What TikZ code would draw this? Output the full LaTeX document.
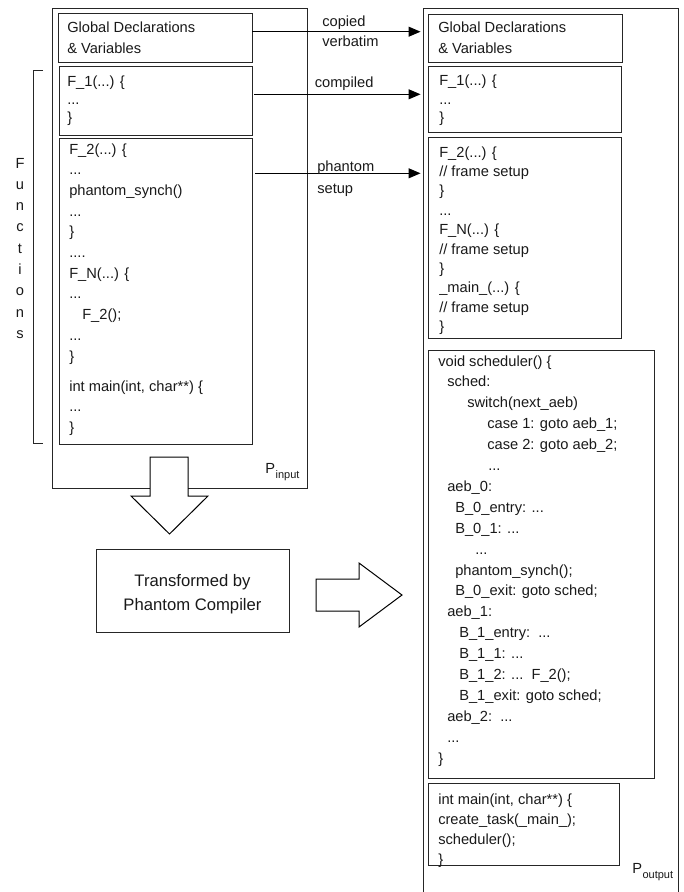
\documentclass[tikz,border=0pt]{standalone}
\usepackage{fontspec}
\setmainfont{Liberation Sans}
\usetikzlibrary{fit,arrows.meta}
\tikzset{
  box/.style={draw=black!85, line width=0.7pt, inner sep=0pt},
  code/.style={anchor=base west, inner sep=0pt, font=\fontsize{11}{13}\selectfont, text=black!90},
  ctr/.style={anchor=base, inner sep=0pt, font=\fontsize{11}{13}\selectfont, text=black!90},
  big/.style={anchor=base, inner sep=0pt, font=\fontsize{12.5}{15}\selectfont, text=black!90},
  sub/.style={anchor=base west, inner sep=0pt, font=\fontsize{8.25}{10}\selectfont, text=black!90},
  conn/.style={draw=black, line width=0.75pt, -{Triangle[length=9pt,width=7.5pt]}, shorten >=1.5pt},
  blockarrow/.style={draw=black, line width=0.75pt, fill=white, line join=miter},
}
\newcommand\cl[4]{\node[code] (#1) at (#2,#3) {#4};}
\begin{document}
\begin{tikzpicture}[x=0.75pt,y=-0.75pt]
\useasboundingbox (0,0) rectangle (684,892);

% ---------- input program ----------
\node[box, fit={(52,8) (307,488)}] (pin) {};
\node[box, fit={(58,13) (252,62)}] (lglob) {};
\node[box, fit={(59,66) (252,135)}] (lf1) {};
\node[box, fit={(59,138) (252,444)}] (lf2) {};

\cl{lg1}{67}{33}{Global Declarations}
\cl{lg2}{67}{54}{\& Variables}

\cl{la1}{67}{86.5}{F\_1(...) \{}
\cl{la2}{67}{104.5}{...}
\cl{la3}{67}{122.5}{\}}

\cl{lb1}{69}{154}{F\_2(...) \{}
\cl{lb2}{69}{174.7}{...}
\cl{lb3}{69}{195.4}{phantom\_synch()}
\cl{lb4}{69}{216.1}{...}
\cl{lb5}{69}{236.8}{\}}
\cl{lb6}{69}{257.5}{....}
\cl{lb7}{69}{278.2}{F\_N(...) \{}
\cl{lb8}{69}{298.9}{...}
\cl{lb9}{82}{319.6}{F\_2();}
\cl{lb10}{69}{340.3}{...}
\cl{lb11}{69}{361}{\}}
\cl{lb12}{69}{391}{int main(int, char**) \{}
\cl{lb13}{69}{411.5}{...}
\cl{lb14}{69}{432}{\}}

% Functions bracket
\draw[draw=black!85, line width=0.7pt] (43,70) -- (33,70) -- (33,443) -- (43,443);
\foreach \ch [count=\i from 0] in {F,u,n,c,t,i,o,n,s}
  \node[ctr] (fn\i) at (20,{168+21.3*\i}) {\ch};

% P_input label
\node[code] (pinP) at (265,473) {P};
\node[sub, anchor=base west] (pinS) at ([yshift=-3.75pt]pinP.base east) {input};

% down block arrow
\draw[blockarrow] (150,457) -- (188,457) -- (188,496) -- (208,496) -- (169.5,534) -- (131,496) -- (150,496) -- cycle;

% transformed box
\node[box, fit={(96,549) (289,632)}] (trans) {};
\node[big] (tr1) at (192.5,586.7) {Transformed by};
\node[big] (tr2) at (192.5,610) {Phantom Compiler};

% right block arrow
\draw[blockarrow] (316,579) -- (359,579) -- (359,563) -- (402,595) -- (359,627) -- (359,611) -- (316,611) -- cycle;

% ---------- output program ----------
\begin{scope}
\clip (0,0) rectangle (684,892);
\node[box, fit={(423,8) (678,905)}] (pout) {};
\end{scope}
\node[box, fit={(428,14) (622,62)}] (rglob) {};
\node[box, fit={(428,66) (621,132)}] (rf1) {};
\node[box, fit={(428,137) (621,338)}] (rf2) {};
\node[box, fit={(428,350) (654,778)}] (rsched) {};
\node[box, fit={(428,783) (619,865)}] (rmain) {};

\cl{rg1}{438}{33}{Global Declarations}
\cl{rg2}{438}{54}{\& Variables}

\cl{ra1}{439}{85.5}{F\_1(...) \{}
\cl{ra2}{439}{104}{...}
\cl{ra3}{439}{122.5}{\}}

\cl{rb1}{439}{157}{F\_2(...) \{}
\cl{rb2}{439}{176.4}{// frame setup}
\cl{rb3}{439}{195.8}{\}}
\cl{rb4}{439}{215.2}{...}
\cl{rb5}{439}{234.6}{F\_N(...) \{}
\cl{rb6}{439}{254}{// frame setup}
\cl{rb7}{439}{273.4}{\}}
\cl{rb8}{439}{292.8}{\_main\_(...) \{}
\cl{rb9}{439}{312.2}{// frame setup}
\cl{rb10}{439}{331.6}{\}}

\cl{s0}{438}{366}{void scheduler() \{}
\cl{s1}{447}{386.9}{sched:}
\cl{s2}{467}{407.8}{switch(next\_aeb)}
\cl{s3}{487}{428.7}{case 1: goto aeb\_1;}
\cl{s4}{487}{449.6}{case 2: goto aeb\_2;}
\cl{s5}{488}{470.5}{...}
\cl{s6}{447}{491.4}{aeb\_0:}
\cl{s7}{455}{512.3}{B\_0\_entry: ...}
\cl{s8}{455}{533.2}{B\_0\_1: ...}
\cl{s9}{475}{554.1}{...}
\cl{s10}{455}{575}{phantom\_synch();}
\cl{s11}{455}{595.9}{B\_0\_exit: goto sched;}
\cl{s12}{447}{616.8}{aeb\_1:}
\cl{s13}{459}{637.7}{B\_1\_entry:\ \ ...}
\cl{s14}{459}{658.6}{B\_1\_1: ...}
\cl{s15}{459}{679.5}{B\_1\_2: ...\ \ F\_2();}
\cl{s16}{459}{700.4}{B\_1\_exit: goto sched;}
\cl{s17}{447}{721.3}{aeb\_2:\ \ ...}
\cl{s18}{447}{742.2}{...}
\cl{s19}{438}{763.1}{\}}

\cl{m1}{438}{804}{int main(int, char**) \{}
\cl{m2}{438}{824}{create\_task(\_main\_);}
\cl{m3}{438}{844}{scheduler();}
\cl{m4}{438}{864}{\}}

% P_output label
\node[code] (poP) at (632,873) {P};
\node[sub, anchor=base west] (poS) at ([yshift=-3.75pt]poP.base east) {output};

% ---------- connectors ----------
\coordinate (y1) at (0,31.7);
\coordinate (y2) at (0,94.3);
\coordinate (y3) at (0,173.3);
\draw[conn] (lglob.east |- y1) -- (pout.west |- y1);
\draw[conn] (lf1.east |- y2) ++(2,0) -- (pout.west |- y2);
\draw[conn] (lf2.east |- y3) ++(3,0) -- (pout.west |- y3);

\node[code] (lab1a) at (322,27) {copied};
\node[code] (lab1b) at (322,47) {verbatim};
\node[code] (lab2) at (314.5,88) {compiled};
\node[code] (lab3a) at (317,171.5) {phantom};
\node[code] (lab3b) at (317,193) {setup};
\end{tikzpicture}
\end{document}
